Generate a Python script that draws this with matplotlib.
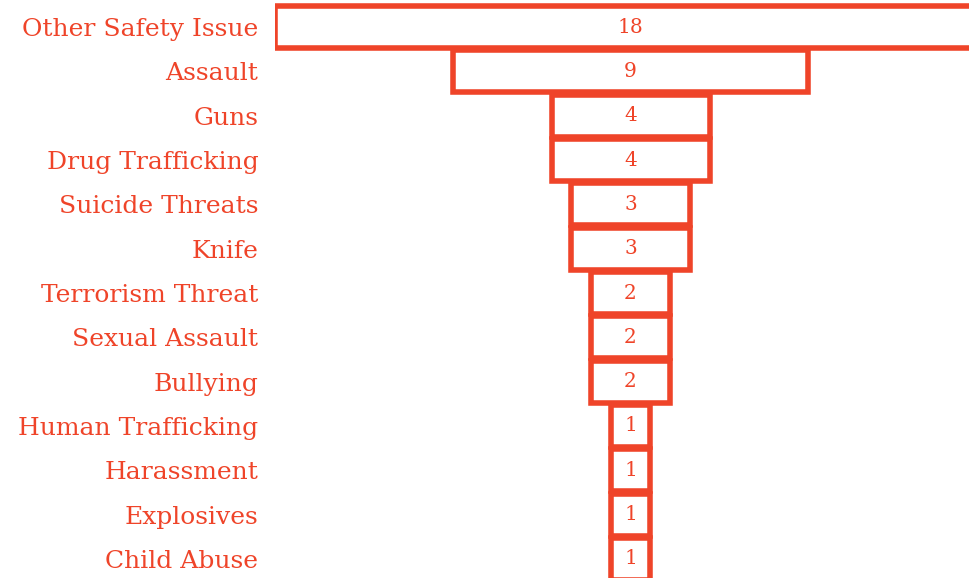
import numpy as np
import matplotlib.pyplot as plt

# funnel data (top to bottom)
categories = ["Other Safety Issue", "Assault", "Guns", "Drug Trafficking",
              "Suicide Threats", "Knife", "Terrorism Threat", "Sexual Assault",
              "Bullying", "Human Trafficking", "Harassment", "Explosives", "Child Abuse"]
counts = [18, 9, 4, 4, 3, 3, 2, 2, 2, 1, 1, 1, 1]

red = "#ef4429"
plt.rcParams['font.family'] = ['DejaVu Serif']

fig = plt.figure(figsize=(9.69, 5.78), dpi=100)
ax = fig.add_axes([275 / 969, 0, 1 - 275 / 969, 1])

y = np.arange(len(categories))
vals = np.array(counts)
ax.barh(y, vals, left=-vals / 2, height=0.95, color="white",
        edgecolor=red, linewidth=4, clip_on=True)

for yi, v in zip(y, vals):
    ax.text(0, yi, str(v), ha="center", va="center", color=red, fontsize=14.5)

ax.set_yticks(y)
ax.set_yticklabels(categories, color=red, fontsize=18)
ax.tick_params(axis="y", length=0, pad=12)
ax.set_xticks([])
ax.set_xlim(-9, (969 - 275) / 39.5 - 9)
ax.set_ylim(12 + 19 / 44.33, -27 / 44.33)
for s in ax.spines.values():
    s.set_visible(False)

fig.savefig("out.png", dpi=100)
